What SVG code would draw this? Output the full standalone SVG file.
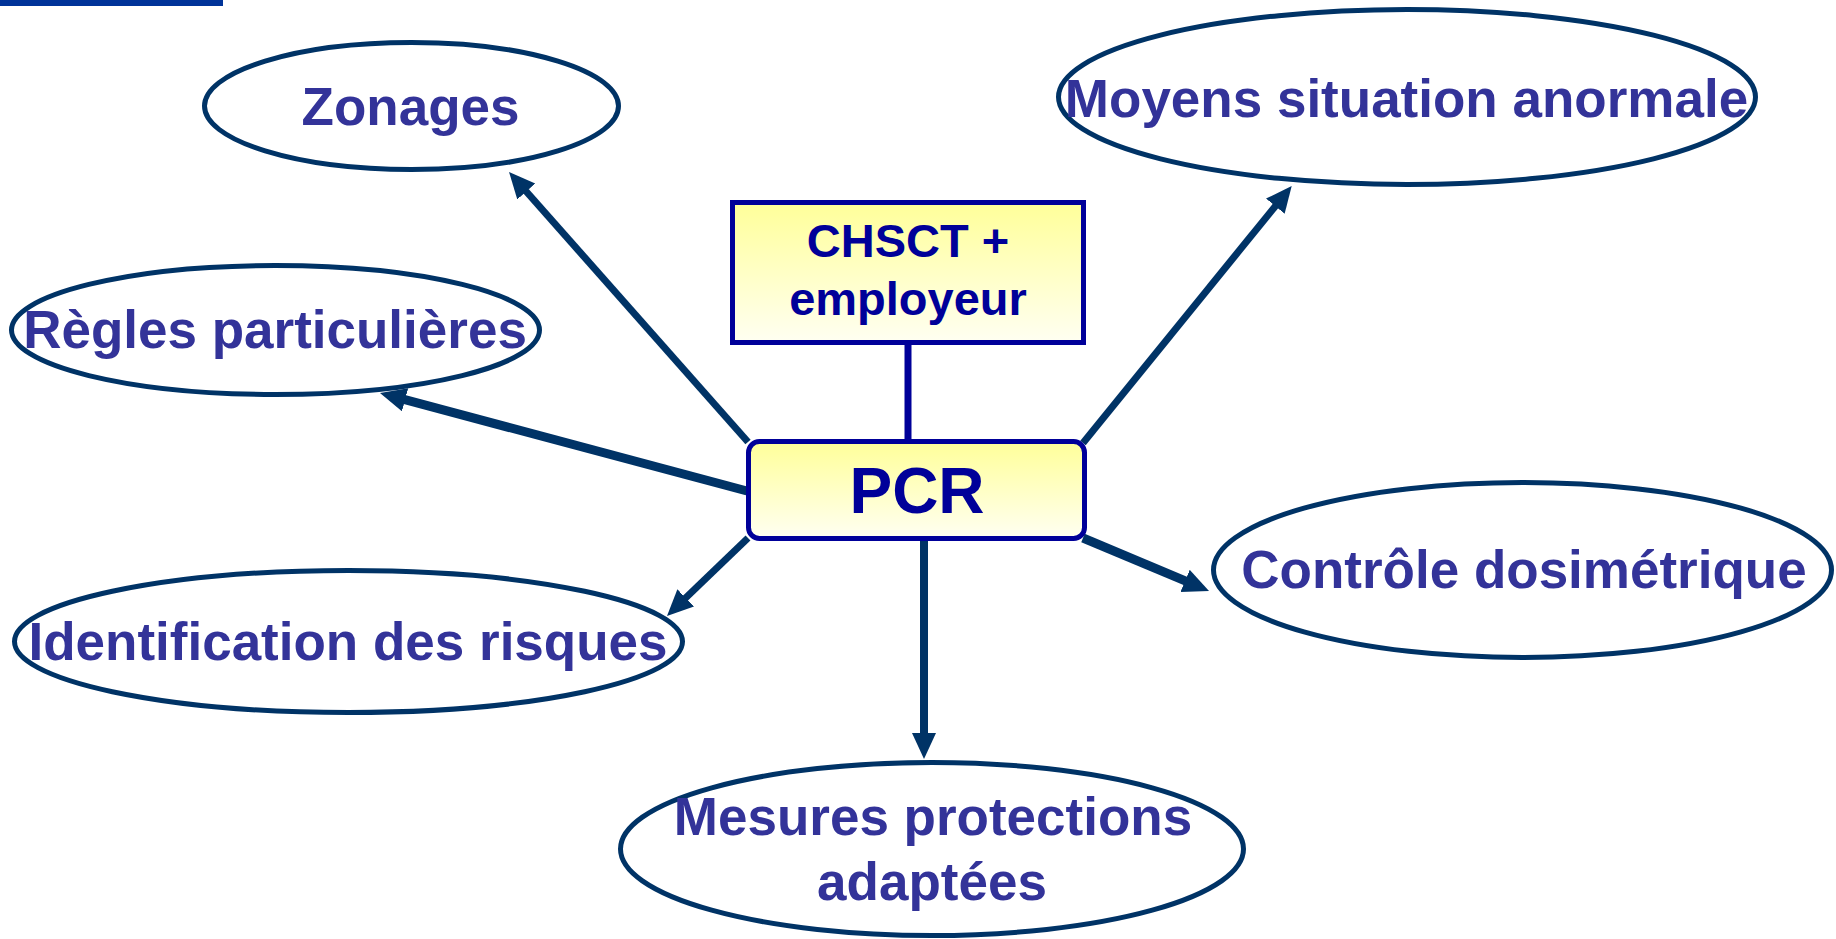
<svg xmlns="http://www.w3.org/2000/svg" width="1836" height="939" viewBox="0 0 1836 939">
<style>
.ell{fill:#FFFFFF;stroke:#003366;stroke-width:5}
.lbl{font-family:"Liberation Sans",Arial,sans-serif;font-weight:bold;font-size:53px;fill:#333399;text-anchor:middle}
.box{stroke:#000099;stroke-width:5;fill:url(#yel)}
.btxt{font-family:"Liberation Sans",Arial,sans-serif;font-weight:bold;fill:#000099;text-anchor:middle}
.arr{stroke:#003366;fill:none;marker-end:url(#ah)}
</style>
<defs>
<linearGradient id="yel" x1="0" y1="0" x2="0" y2="1">
<stop offset="0" stop-color="#FFFF99"/>
<stop offset="1" stop-color="#FFFFF2"/>
</linearGradient>
<marker id="ah" markerUnits="userSpaceOnUse" markerWidth="28" markerHeight="26" refX="6" refY="12" orient="auto">
<path d="M0,0 L26,12 L0,24 Z" fill="#003366"/>
</marker>
</defs>
<rect x="0" y="0" width="223" height="6" fill="#003399"/>
<g id="connectors">
<line x1="908" y1="344" x2="908" y2="441" stroke="#000099" stroke-width="7"/>
<line class="arr" x1="748" y1="442" x2="522.3" y2="187" stroke-width="7"/>
<line class="arr" x1="747" y1="491" x2="399.3" y2="398.2" stroke-width="9"/>
<line class="arr" x1="748" y1="538" x2="681.4" y2="602.1" stroke-width="7"/>
<line class="arr" x1="924" y1="541" x2="924" y2="739" stroke-width="8"/>
<line class="arr" x1="1083" y1="538" x2="1190.6" y2="583.2" stroke-width="9"/>
<line class="arr" x1="1083" y1="443" x2="1279.1" y2="201.5" stroke-width="7"/>
</g>
<g id="chsct">
<rect class="box" x="732.5" y="202.5" width="351" height="140"/>
<text class="btxt" x="908" y="257" font-size="47">CHSCT +</text>
<text class="btxt" x="908" y="315" font-size="47">employeur</text>
</g>
<g id="pcr">
<rect class="box" x="748.5" y="441.5" width="336" height="97" rx="11"/>
<text class="btxt" x="917" y="513" font-size="64">PCR</text>
</g>
<g id="zonages">
<ellipse class="ell" cx="411.5" cy="106" rx="207" ry="63.5"/>
<text class="lbl" x="410.5" y="125">Zonages</text>
</g>
<g id="regles">
<ellipse class="ell" cx="275.5" cy="330" rx="264" ry="64.5"/>
<text class="lbl" x="275" y="348">Règles particulières</text>
</g>
<g id="moyens">
<ellipse class="ell" cx="1407" cy="97" rx="348.5" ry="87.5"/>
<text class="lbl" x="1406.5" y="117">Moyens situation anormale</text>
</g>
<g id="controle">
<ellipse class="ell" cx="1522.5" cy="570" rx="309" ry="87.5"/>
<text class="lbl" x="1524" y="588">Contrôle dosimétrique</text>
</g>
<g id="identification">
<ellipse class="ell" cx="348.5" cy="641.5" rx="334" ry="71"/>
<text class="lbl" x="348" y="660">Identification des risques</text>
</g>
<g id="mesures">
<ellipse class="ell" cx="932" cy="849" rx="311.5" ry="86.5"/>
<text class="lbl" x="933" y="835">Mesures protections</text>
<text class="lbl" x="932" y="900">adaptées</text>
</g>
</svg>
